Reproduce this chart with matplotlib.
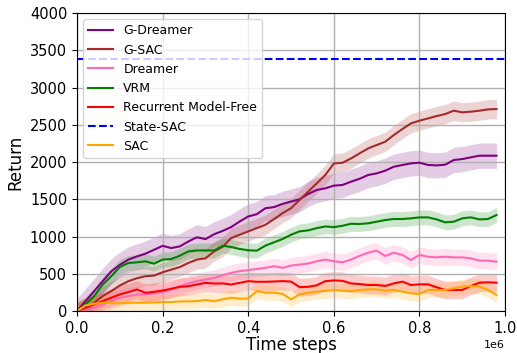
import numpy as np
import matplotlib
matplotlib.use("Agg")
import matplotlib.pyplot as plt

# Time steps (every 20k steps, up to 980k)
steps = np.arange(0, 1000000, 20000)

g_dreamer = [0, 133, 267, 400, 533, 620, 690, 733, 770, 822,
             875, 845, 867, 933, 990, 965, 1030, 1075, 1126, 1202,
             1269, 1300, 1380, 1394, 1438, 1469, 1500, 1572, 1625, 1647,
             1683, 1692, 1736, 1775, 1826, 1848, 1884, 1937, 1960, 1982,
             1991, 1960, 1955, 1964, 2027, 2040, 2063, 2085, 2085, 2085]
g_sac = [0, 44, 111, 200, 267, 342, 400, 440, 467, 475,
         520, 555, 590, 645, 690, 707, 800, 860, 980, 1024,
         1069, 1113, 1157, 1233, 1313, 1380, 1492, 1603, 1714, 1826,
         1981, 1990, 2048, 2116, 2183, 2228, 2273, 2362, 2443, 2519,
         2555, 2586, 2617, 2644, 2689, 2667, 2676, 2689, 2707, 2711]
dreamer = [0, 13, 44, 89, 133, 178, 200, 222, 222, 236,
           253, 289, 333, 369, 400, 422, 444, 480, 512, 534,
           548, 565, 579, 601, 579, 610, 623, 637, 668, 690,
           668, 654, 690, 740, 783, 810, 738, 783, 752, 685,
           752, 729, 720, 729, 720, 720, 707, 676, 676, 662]
vrm = [0, 89, 200, 355, 467, 590, 645, 653, 667, 635,
       690, 698, 742, 800, 813, 813, 813, 877, 859, 833,
       815, 810, 877, 922, 966, 1024, 1069, 1082, 1113, 1135,
       1126, 1144, 1171, 1168, 1177, 1199, 1221, 1235, 1235, 1244,
       1257, 1257, 1230, 1190, 1199, 1244, 1257, 1230, 1235, 1289]
recurrent_mf = [0, 44, 89, 133, 178, 222, 253, 289, 244, 258,
                275, 298, 324, 333, 355, 378, 369, 370, 356, 378,
                401, 392, 392, 396, 401, 395, 320, 325, 345, 400,
                410, 405, 370, 362, 349, 349, 336, 371, 394, 349,
                358, 358, 318, 282, 282, 282, 336, 380, 385, 380]
sac = [0, 75, 98, 111, 111, 102, 111, 111, 111, 115,
       120, 120, 129, 129, 133, 147, 133, 156, 178, 165,
       169, 267, 245, 245, 231, 156, 223, 245, 258, 270,
       280, 272, 265, 282, 291, 291, 273, 282, 260, 237,
       228, 282, 282, 282, 304, 327, 336, 327, 282, 215]
state_sac = 3385

# half width of the shaded bands
band = {'G-Dreamer': 170, 'G-SAC': 130, 'Dreamer': 110, 'VRM': 100,
        'Recurrent Model-Free': 120, 'SAC': 100}

fig, ax = plt.subplots(figsize=(5.17, 3.53), dpi=100)
fig.subplots_adjust(left=0.149, right=0.977, top=0.963, bottom=0.119)

series = [('G-Dreamer', g_dreamer, 'purple'),
          ('G-SAC', g_sac, 'brown'),
          ('Dreamer', dreamer, 'hotpink'),
          ('VRM', vrm, 'green'),
          ('Recurrent Model-Free', recurrent_mf, 'red')]

for name, vals, col in series:
    vals = np.array(vals, dtype=float)
    ax.plot(steps, vals, color=col, linewidth=1.5, label=name)
    ax.fill_between(steps, vals - band[name], vals + band[name], color=col, alpha=0.2, linewidth=0)

ax.axhline(state_sac, color='blue', linestyle='--', linewidth=1.5, label='State-SAC')

sac_arr = np.array(sac, dtype=float)
ax.plot(steps, sac_arr, color='orange', linewidth=1.5, label='SAC')
ax.fill_between(steps, np.clip(sac_arr - band['SAC'], 0, None), sac_arr + band['SAC'],
                color='orange', alpha=0.2, linewidth=0)

ax.set_xlim(0, 1000000)
ax.set_ylim(0, 4000)
ax.set_xlabel('Time steps', fontsize=12, labelpad=0)
ax.set_ylabel('Return', fontsize=12)
ax.tick_params(labelsize=10.5)
ax.xaxis.get_offset_text().set_fontsize(8)
ax.grid(True, color='#b0b0b0', linewidth=1)
ax.legend(loc='upper left', fontsize=9, framealpha=0.8)

plt.savefig('out.png', dpi=100)
